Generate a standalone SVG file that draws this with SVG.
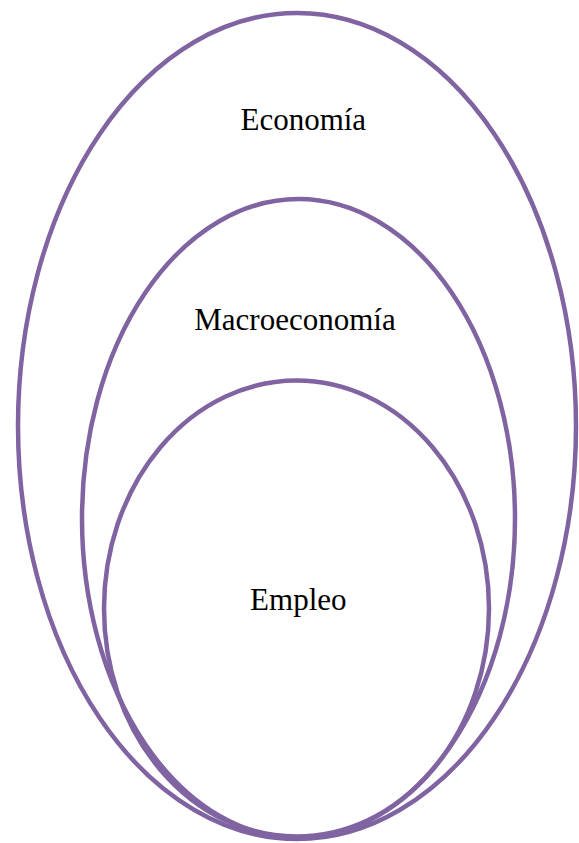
<svg xmlns="http://www.w3.org/2000/svg" width="579" height="843" viewBox="0 0 579 843">
<style>
.e{fill:none;stroke:#8064A2;stroke-width:4.5}
.t{font-family:'Liberation Serif','Times New Roman',Times,serif;font-size:31px;fill:#000;text-anchor:middle}
</style>
<rect width="579" height="843" fill="#fff"/>
<g id="economia">
<ellipse class="e" cx="297" cy="426" rx="279" ry="413"/>
<text class="t" x="303.3" y="130">Economía</text>
</g>
<g id="macroeconomia">
<ellipse class="e" cx="298.5" cy="518.5" rx="216.5" ry="319.5"/>
<text class="t" x="295" y="330">Macroeconomía</text>
</g>
<g id="empleo">
<ellipse class="e" cx="296.5" cy="608.5" rx="192.5" ry="228"/>
<text class="t" x="298.3" y="610">Empleo</text>
</g>
<g id="connectors"/>
</svg>
